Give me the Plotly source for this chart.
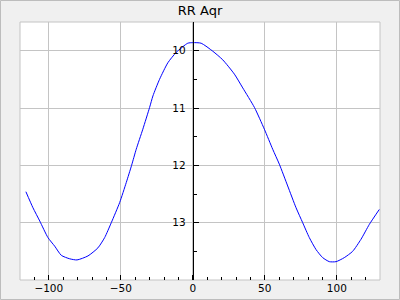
import plotly.graph_objects as go

phase = [-115.9, -111.0, -106.3, -100.6, -95.9, -91.3, -85.5, -80.4, -72.8, -65.9,
         -61.2, -56.6, -50.8, -46.2, -42.5, -39.3, -34.7, -30.0, -27.7, -23.1,
         -17.3, -11.5, -3.5, 0.0, 5.8, 13.9, 20.8, 28.9, 34.7, 42.8,
         49.7, 55.5, 60.1, 65.9, 71.7, 76.3, 80.9, 85.6, 90.2, 94.8,
         99.5, 105.2, 111.0, 116.8, 122.6, 129.5]
mag = [12.46, 12.74, 12.97, 13.26, 13.41, 13.57, 13.63, 13.65, 13.58, 13.44,
       13.26, 13.00, 12.65, 12.30, 12.00, 11.72, 11.37, 10.99, 10.79, 10.50,
       10.21, 10.03, 9.87, 9.86, 9.87, 10.01, 10.16, 10.41, 10.65, 10.99,
       11.37, 11.72, 11.98, 12.36, 12.74, 13.00, 13.26, 13.47, 13.61, 13.68,
       13.68, 13.61, 13.50, 13.29, 13.03, 12.77]

x_range = [-120, 130]
y_range = [14, 9.5]
x_ticks = [-100, -50, 0, 50, 100]
y_ticks = [10, 11, 12, 13]
title = "RR Aqr"

FONT = "DejaVu Sans"
GRID = "#c4c4c4"

fig = go.Figure()
fig.add_trace(go.Scatter(x=phase, y=mag, mode="lines",
                         line=dict(color="#0000ff", width=1, shape="spline", smoothing=0.6),
                         hoverinfo="skip"))

ypos = (0 - x_range[0]) / (x_range[1] - x_range[0])

fig.update_layout(
    width=400, height=300,
    margin=dict(l=20, r=20, t=22, b=20, autoexpand=False),
    paper_bgcolor="#f0f0f0", plot_bgcolor="#ffffff",
    showlegend=False,
    font=dict(family=FONT, size=10.5, color="#000000"),
    title=dict(text=title, x=0.5, xanchor="center", y=1 - 10 / 300, yanchor="middle",
               yref="container", font=dict(family=FONT, size=13, color="#000000")),
    xaxis=dict(range=x_range, tickvals=x_ticks, ticks="inside", ticklen=5,
               tickcolor="#000000", tickwidth=1, automargin=False,
               minor=dict(dtick=10, tick0=0, ticks="inside", ticklen=3,
                          tickcolor="#000000", showgrid=False),
               showgrid=True, gridcolor=GRID, gridwidth=1,
               zeroline=False, showline=False, fixedrange=True),
    yaxis=dict(range=y_range, tickvals=y_ticks, ticks="inside", ticklen=5,
               tickcolor="#000000", tickwidth=1, automargin=False,
               minor=dict(dtick=0.5, tick0=0, ticks="inside", ticklen=3,
                          tickcolor="#000000", showgrid=False),
               showgrid=True, gridcolor=GRID, gridwidth=1,
               zeroline=False, showline=True, linecolor="#000000", linewidth=1,
               anchor="free", position=ypos, ticklabelstandoff=5, fixedrange=True),
    shapes=[
        dict(type="rect", xref="paper", yref="paper", x0=0, x1=1, y0=0, y1=1,
             line=dict(color=GRID, width=1), layer="below"),
        dict(type="rect", xref="paper", yref="paper",
             x0=(0.5 - 20) / 360, x1=(399.5 - 20) / 360,
             y0=(280 - 299.5) / 258, y1=(280 - 0.5) / 258,
             line=dict(color="#bdbdbd", width=1), layer="below"),
    ],
)

fig.write_html("out.html")
